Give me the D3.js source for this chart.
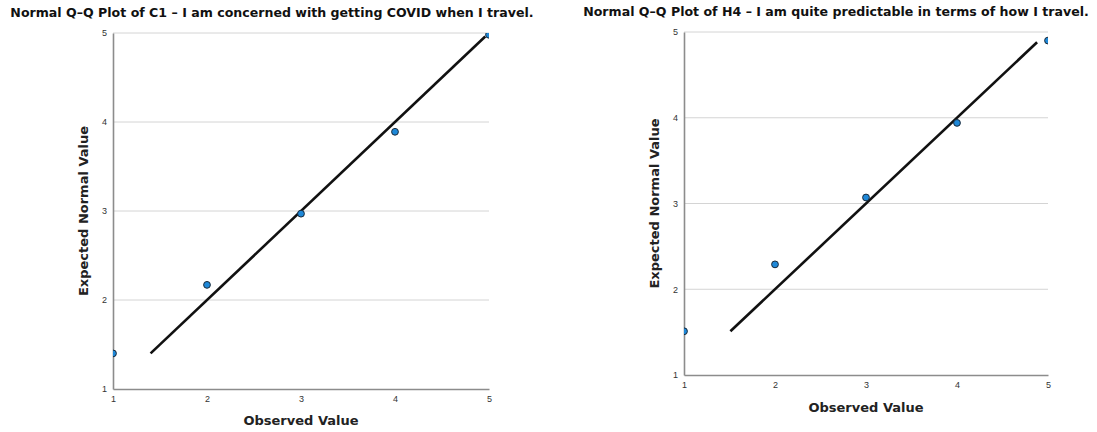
<!DOCTYPE html>
<html>
<head>
<meta charset="utf-8">
<script src="https://cdn.jsdelivr.net/npm/d3@7"></script>
<style>
  body { margin: 0; background: #fff; }
  text { font-family: "DejaVu Sans", "Liberation Sans", Arial, sans-serif; fill: #111; }
</style>
</head>
<body>
<div id="chart"></div>
<script>
// observed values (x) and expected normal values (y)
const observed = [1, 2, 3, 4, 5];
const expectedC1 = [1.40, 2.17, 2.97, 3.89, 4.98];
const expectedH4 = [1.51, 2.29, 3.07, 3.94, 4.90];
const lineC1 = [1.40, 4.96];
const lineH4 = [1.51, 4.88];
const ticks = [1, 2, 3, 4, 5];

const svg = d3.select("#chart").append("svg")
  .attr("width", 1097)
  .attr("height", 432);

const panels = [
  { id: "c1", title: "Normal Q\u2013Q Plot of C1 \u2013 I am concerned with getting COVID when I travel.",
    ys: expectedC1, line: lineC1,
    left: 113, right: 489, top: 33, bottom: 389,
    titleX: 272, titleY: 17, titleW: 524, xLabY: 425, yLabX: 88 },
  { id: "h4", title: "Normal Q\u2013Q Plot of H4 \u2013 I am quite predictable in terms of how I travel.",
    ys: expectedH4, line: lineH4,
    left: 684, right: 1048, top: 32, bottom: 375,
    titleX: 836, titleY: 16, titleW: 506, xLabY: 412, yLabX: 659 }
];

panels.forEach(p => {
  const x = d3.scaleLinear().domain([1, 5]).range([p.left, p.right]);
  const y = d3.scaleLinear().domain([1, 5]).range([p.bottom, p.top]);
  const g = svg.append("g");

  g.append("clipPath").attr("id", "clip-" + p.id)
    .append("rect")
    .attr("x", p.left).attr("y", p.top)
    .attr("width", p.right - p.left).attr("height", p.bottom - p.top);

  // gridlines
  g.selectAll(".grid")
    .data(ticks.slice(1))
    .enter().append("line")
    .attr("x1", p.left).attr("x2", p.right)
    .attr("y1", d => y(d)).attr("y2", d => y(d))
    .style("stroke", "#d4d4d4").style("stroke-width", 1);

  const xAxis = d3.axisBottom(x).tickValues(ticks).tickSize(0).tickPadding(7).tickFormat(d3.format("d"));
  const yAxis = d3.axisLeft(y).tickValues(ticks).tickSize(0).tickPadding(6).tickFormat(d3.format("d"));

  const gx = g.append("g").attr("transform", `translate(0,${p.bottom})`).call(xAxis);
  const gy = g.append("g").attr("transform", `translate(${p.left},0)`).call(yAxis);
  [gx, gy].forEach(a => {
    a.select(".domain").style("stroke", "#8c8c8c").style("stroke-width", 1.6);
    a.selectAll("text").style("font-size", "9px").style("fill", "#333")
      .style("font-family", "'Liberation Sans', Arial, sans-serif");
  });

  const plot = g.append("g").attr("clip-path", `url(#clip-${p.id})`);

  plot.append("line")
    .attr("x1", x(p.line[0])).attr("y1", y(p.line[0]))
    .attr("x2", x(p.line[1])).attr("y2", y(p.line[1]))
    .style("stroke", "#111").style("stroke-width", 2.6);

  plot.selectAll(".dot")
    .data(observed.map((o, i) => [o, p.ys[i]]))
    .enter().append("circle")
    .attr("cx", d => x(d[0]))
    .attr("cy", d => y(d[1]))
    .attr("r", 3.4)
    .style("fill", "#1e88d8")
    .style("stroke", "#1a2a3a")
    .style("stroke-width", 1);

  // title: shrink the font until it fits the width of the original
  const title = g.append("text")
    .attr("x", p.titleX).attr("y", p.titleY)
    .attr("text-anchor", "middle")
    .style("font-size", "13px").style("font-weight", "bold")
    .text(p.title);
  const len = title.node().getComputedTextLength();
  title.style("font-size", Math.min(13, 13 * p.titleW / len) + "px");

  g.append("text")
    .attr("x", (p.left + p.right) / 2).attr("y", p.xLabY)
    .attr("text-anchor", "middle")
    .style("font-size", "13px").style("font-weight", "bold").style("fill", "#222")
    .text("Observed Value");

  g.append("text")
    .attr("transform", `translate(${p.yLabX},${(p.top + p.bottom) / 2}) rotate(-90)`)
    .attr("text-anchor", "middle")
    .style("font-size", "13px").style("font-weight", "bold").style("fill", "#222")
    .text("Expected Normal Value");
});
</script>
</body>
</html>
